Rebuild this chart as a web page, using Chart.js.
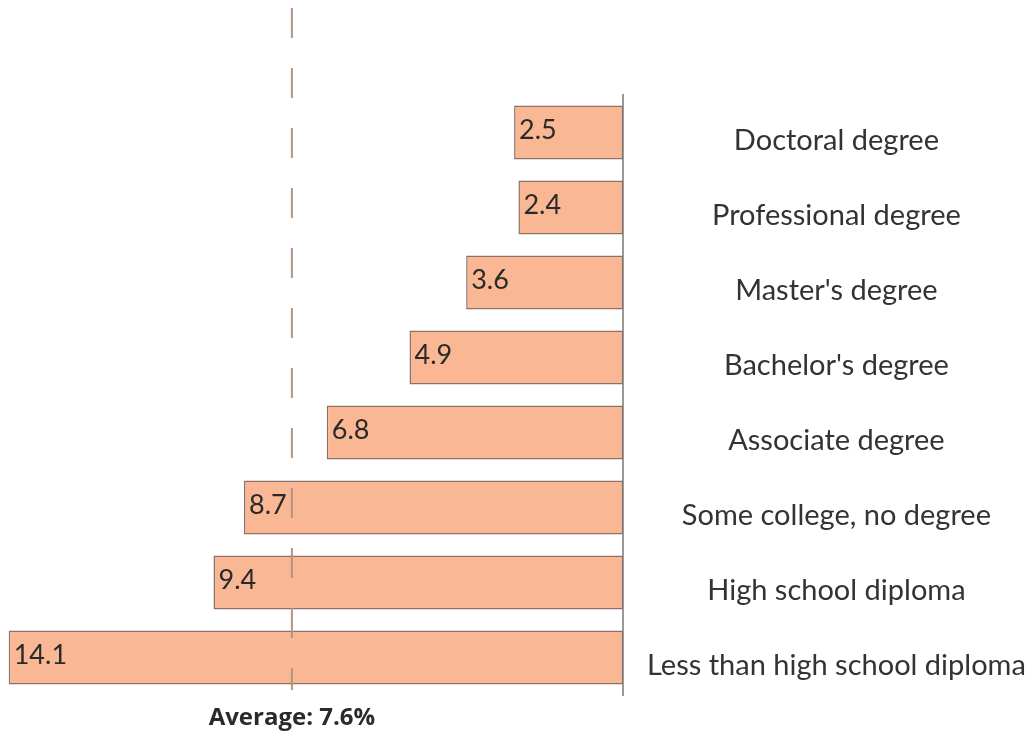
<!DOCTYPE html>
<html>
<head>
<meta charset="utf-8">
<script src="https://cdn.jsdelivr.net/npm/chart.js@4/dist/chart.umd.min.js"></script>
<style>
  html, body { margin: 0; padding: 0; background: #fff; }
  #wrap { width: 1033px; height: 731px; }
</style>
</head>
<body>
<div id="wrap"><canvas id="chart" width="1033" height="731"></canvas></div>
<script>
const LABELS = ['Doctoral degree', 'Professional degree', "Master's degree", "Bachelor's degree",
  'Associate degree', 'Some college, no degree', 'High school diploma', 'Less than high school diploma'];
const RATES = [2.5, 2.4, 3.6, 4.9, 6.8, 8.7, 9.4, 14.1];
const AVERAGE = 7.6;
const AVG_LABEL = 'Average: 7.6%';

const FONT = "Lato, 'Open Sans', sans-serif";

/* value labels at the outer end of each bar + average line */
const extras = {
  id: 'extras',
  afterDatasetsDraw(chart) {
    const ctx = chart.ctx;
    const meta = chart.getDatasetMeta(0);
    ctx.save();
    ctx.fillStyle = '#2a2a2a';
    ctx.font = '27px ' + FONT;
    ctx.textAlign = 'left';
    ctx.textBaseline = 'middle';
    meta.data.forEach((bar, i) => {
      ctx.fillText(RATES[i].toFixed(1), bar.x + 5, bar.y - 2);
    });
    ctx.restore();

    // dashed average line
    const x = chart.scales.x.getPixelForValue(AVERAGE);
    const area = chart.chartArea;
    ctx.save();
    ctx.strokeStyle = '#b39584';
    ctx.lineWidth = 2;
    ctx.setLineDash([30, 30]);
    ctx.beginPath();
    ctx.moveTo(x, area.top - 87);
    ctx.lineTo(x, area.bottom - 5);
    ctx.stroke();
    ctx.restore();

    ctx.save();
    ctx.fillStyle = '#2a2a2a';
    ctx.font = "bold 24px 'Open Sans', sans-serif";
    ctx.textAlign = 'center';
    ctx.textBaseline = 'middle';
    ctx.fillText(AVG_LABEL, x, area.bottom + 23);
    ctx.restore();
  }
};

new Chart(document.getElementById('chart'), {
  type: 'bar',
  data: {
    labels: LABELS,
    datasets: [{
      data: RATES,
      backgroundColor: '#f9b794',
      borderColor: '#8d7167',
      borderWidth: 1.5,
      borderSkipped: false,
      categoryPercentage: 1,
      barPercentage: 0.72
    }]
  },
  options: {
    indexAxis: 'y',
    responsive: false,
    animation: false,
    layout: { padding: { top: 95, bottom: 36, left: 0, right: 0 } },
    plugins: { legend: { display: false }, tooltip: { enabled: false } },
    scales: {
      x: { display: false, reverse: true, min: 0, max: 14.3 },
      y: {
        position: 'right',
        grid: { display: false },
        border: { display: true, color: '#9a9a9a', width: 2 },
        ticks: {
          color: '#333',
          font: { family: FONT, size: 29 },
          padding: 16,
          labelOffset: 8,
          crossAlign: 'center'
        },
        afterFit(scale) { scale.width = 410; }
      }
    }
  },
  plugins: [extras]
});
</script>
</body>
</html>
